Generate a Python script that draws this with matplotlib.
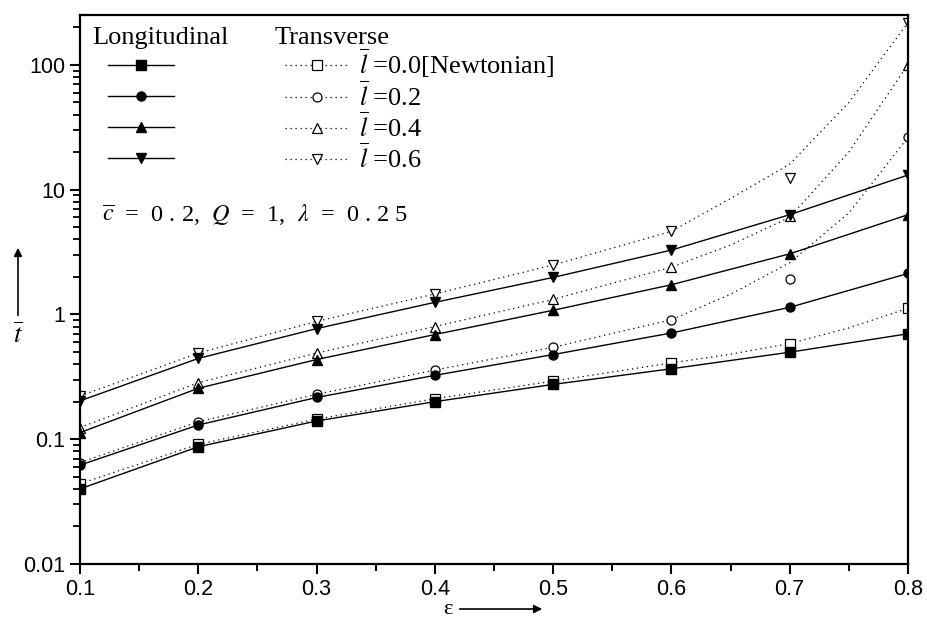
import matplotlib.pyplot as plt
from matplotlib.lines import Line2D
from matplotlib.ticker import FixedLocator, NullFormatter

eps = [0.1, 0.2, 0.3, 0.4, 0.5, 0.6, 0.7, 0.8]

# Longitudinal (filled markers, solid lines)
long_l00 = [0.040, 0.087, 0.140, 0.200, 0.275, 0.367, 0.498, 0.70]
long_l02 = [0.062, 0.130, 0.216, 0.325, 0.477, 0.71, 1.14, 2.13]
long_l04 = [0.113, 0.256, 0.435, 0.69, 1.08, 1.73, 3.06, 6.3]
long_l06 = [0.203, 0.444, 0.77, 1.25, 1.98, 3.28, 6.3, 13.1]

# Transverse (open markers)
trans_l00 = [0.044, 0.091, 0.145, 0.211, 0.292, 0.409, 0.584, 1.12]
trans_l02 = [0.065, 0.138, 0.229, 0.358, 0.546, 0.907, 1.92, 26.2]
trans_l04 = [0.124, 0.284, 0.49, 0.80, 1.32, 2.39, 6.1, 100.5]
trans_l06 = [0.222, 0.49, 0.88, 1.46, 2.49, 4.64, 12.4, 218]

# Transverse dotted curves
eps_curve = [0.1, 0.2, 0.3, 0.4, 0.5, 0.6, 0.65, 0.7, 0.75, 0.8]
curve_l00 = [0.044, 0.091, 0.145, 0.211, 0.292, 0.409, 0.48, 0.584, 0.78, 1.12]
curve_l02 = [0.065, 0.138, 0.229, 0.358, 0.546, 0.907, 1.45, 2.6, 6.5, 26.2]
curve_l04 = [0.124, 0.284, 0.49, 0.80, 1.32, 2.39, 3.6, 6.0, 20, 100.5]
curve_l06 = [0.222, 0.49, 0.88, 1.46, 2.49, 4.64, 8.5, 16, 50, 218]

labels = [r'$\overline{l}$ =0.0[Newtonian]', r'$\overline{l}$ =0.2',
          r'$\overline{l}$ =0.4', r'$\overline{l}$ =0.6']
markers = ['s', 'o', '^', 'v']

plt.rcParams['font.family'] = 'Liberation Sans'
plt.rcParams['mathtext.fontset'] = 'stix'
serif = 'Liberation Serif'

fig = plt.figure(figsize=(9.28, 6.21), dpi=100)
ax = fig.add_axes([0.0862, 0.0918, 0.8922, 0.884])

dot = (0, (1, 3))
longs = [long_l00, long_l02, long_l04, long_l06]
transs = [trans_l00, trans_l02, trans_l04, trans_l06]
curves = [curve_l00, curve_l02, curve_l04, curve_l06]

for lv, tv, cv, m in zip(longs, transs, curves, markers):
    ax.plot(eps_curve, cv, color='black', lw=0.9, ls=dot)
    ax.plot(eps, tv, ls='none', marker=m, ms=6.5, mfc='white', mec='black', mew=0.9)
    ax.plot(eps, lv, color='black', lw=1.0, marker=m, ms=6.5, mfc='black', mec='black')

ax.set_yscale('log')
ax.set_xticks(eps)
ax.set_xticks([0.15, 0.25, 0.35, 0.45, 0.55, 0.65, 0.75], minor=True)
ax.set_xticklabels(['0.1', '0.2', '0.3', '0.4', '0.5', '0.6', '0.7', '0.8'])
ax.tick_params(which='major', direction='out', length=7, width=1.5, labelsize=15.5)
ax.tick_params(axis='x', which='minor', direction='out', length=5, width=1.4)
for s in ax.spines.values():
    s.set_linewidth(1.6)

# y ticks: decades labelled, 2..9 unlabelled
ax.set_yticks([0.01, 0.1, 1, 10, 100])
ax.set_yticklabels(['0.01', '0.1', '1', '10', '100'])
minor_y = [k * 10.0 ** d for d in range(-2, 3) for k in range(2, 10)]
ax.yaxis.set_minor_locator(FixedLocator(minor_y))
ax.yaxis.set_minor_formatter(NullFormatter())
ax.tick_params(axis='y', which='minor', direction='out', length=5, width=1.3,
               left=True, color='black')
ax.set_xlim(0.1, 0.8)
ax.set_ylim(0.01, 251)

long_handles = [Line2D([], [], color='black', lw=1.0, marker=m, ms=6.5,
                       mfc='black', mec='black') for m in markers]
trans_handles = [Line2D([], [], color='black', lw=0.9, ls=dot, marker=m, ms=6.5,
                        mfc='white', mec='black', mew=0.9) for m in markers]

ax.text(0.0145, 0.958, 'Longitudinal', transform=ax.transAxes, fontsize=19,
        family=serif, ha='left', va='center')
ax.text(0.2355, 0.958, 'Transverse', transform=ax.transAxes, fontsize=19,
        family=serif, ha='left', va='center')

leg1 = ax.legend(long_handles, [''] * 4, loc='upper left',
                 bbox_to_anchor=(0.0338, 0.925), frameon=False, handlelength=2.5,
                 labelspacing=0.28, prop={'family': serif, 'size': 19},
                 borderaxespad=0, borderpad=0, handletextpad=0)
ax.add_artist(leg1)
ax.legend(trans_handles, labels, loc='upper left',
          bbox_to_anchor=(0.2476, 0.943), frameon=False, handlelength=2.4,
          labelspacing=0.05, prop={'family': serif, 'size': 19},
          borderaxespad=0, borderpad=0, handletextpad=0.4)

ax.text(0.027, 0.635, r'$\overline{c}$  =  0 . 2,  $Q$  =  1,  $\lambda$  =  0 . 2 5',
        transform=ax.transAxes, fontsize=17.5, family=serif, ha='left', va='center')

# axis labels with arrows
fig.text(18 / 928, 1 - 335 / 621, r'$\overline{t}$', fontsize=19, ha='center', va='center')
ax.annotate('', xy=(18 / 928, 1 - 245 / 621), xytext=(18 / 928, 1 - 318 / 621),
            xycoords='figure fraction', textcoords='figure fraction',
            arrowprops=dict(arrowstyle='-|>', color='black', lw=1.2, mutation_scale=12))
fig.text(448 / 928, 1 - 610 / 621, 'ε', fontsize=16, family=serif, ha='center', va='center')
ax.annotate('', xy=(545 / 928, 1 - 609 / 621), xytext=(457 / 928, 1 - 609 / 621),
            xycoords='figure fraction', textcoords='figure fraction',
            arrowprops=dict(arrowstyle='-|>', color='black', lw=1.2, mutation_scale=12))

fig.savefig('out.png', dpi=100)
